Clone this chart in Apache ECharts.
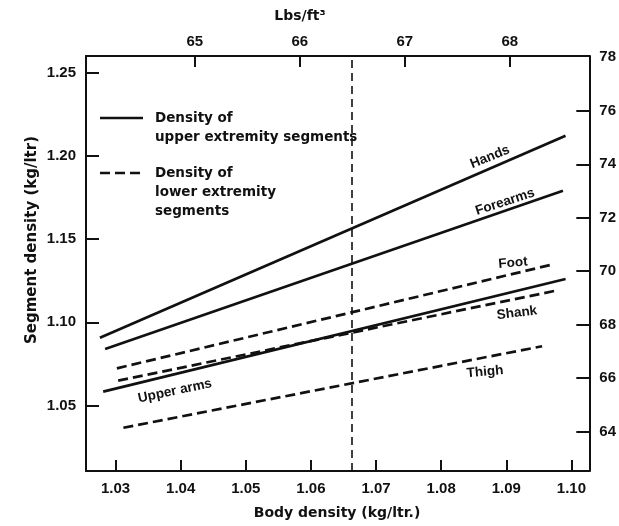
<!DOCTYPE html>
<html><head><meta charset="utf-8">
<script src="https://cdn.jsdelivr.net/npm/echarts@6/dist/echarts.min.js"></script>
<style>html,body{margin:0;padding:0;background:#fff}#c{width:619px;height:526px}</style>
</head><body><div id="c"></div>
<script>
// Tick labels
const bodyDensityTicks = [1.03, 1.04, 1.05, 1.06, 1.07, 1.08, 1.09, 1.10];
const lbsTopTicks = [65, 66, 67, 68];
const segmentTicks = [1.05, 1.10, 1.15, 1.20, 1.25];
const lbsRightTicks = [64, 66, 68, 70, 72, 74, 76];
const lbsRightLabels = [64, 66, 68, 70, 72, 74, 76, 78];
// Series: [body density, segment density]
const hands = [[1.0276, 1.0907], [1.0991, 1.2122]];
const forearms = [[1.0284, 1.0839], [1.0987, 1.1791]];
const upperArms = [[1.0281, 1.0583], [1.0991, 1.1260]];
const foot = [[1.0302, 1.0723], [1.0967, 1.1344]];
const shank = [[1.0304, 1.0649], [1.0976, 1.1190]];
const thigh = [[1.0312, 1.0366], [1.0955, 1.0856]];
const referenceBodyDensity = 1.0662;

const INK = '#111';
const FONT = 'Liberation Sans';
const TFONT = 'DejaVu Sans';
const chart = echarts.init(document.getElementById('c'));

function solid(name, data) {
  return {name, type: 'line', data, symbol: 'none', xAxisIndex: 0, yAxisIndex: 0,
    lineStyle: {color: INK, width: 2.7, type: 'solid'}, silent: true, animation: false};
}
function dashed(name, data) {
  return {name, type: 'line', data, symbol: 'none', xAxisIndex: 0, yAxisIndex: 0,
    lineStyle: {color: INK, width: 2.7, type: [10, 5]}, silent: true, animation: false};
}
const labelStyle = {fontFamily: FONT, fontWeight: 'bold', fontSize: 15, color: INK};
const txt = (x, y, text, rot, size, align, family) => ({
  type: 'text', x, y, rotation: (rot || 0) * Math.PI / 180,
  style: {text, fill: INK, font: 'bold ' + (size || 13) + 'px "' + (family || TFONT) + '"',
    align: align || 'center', verticalAlign: 'middle'}
});

chart.setOption({
  backgroundColor: '#fff',
  animation: false,
  grid: {left: 86, right: 28, top: 56, bottom: 55},
  xAxis: [
    {type: 'value', position: 'bottom', min: 1.02546, max: 1.10275,
      axisLine: {show: true, onZero: false, lineStyle: {color: INK, width: 2}},
      axisTick: {show: true, inside: true, length: 11, customValues: bodyDensityTicks, lineStyle: {color: INK, width: 2}},
      axisLabel: Object.assign({customValues: bodyDensityTicks, margin: 10, formatter: v => v.toFixed(2)}, labelStyle),
      splitLine: {show: false}},
    {type: 'value', position: 'top', min: 63.963, max: 68.758,
      axisLine: {show: true, onZero: false, lineStyle: {color: INK, width: 2}},
      axisTick: {show: true, inside: true, length: 11, customValues: lbsTopTicks, lineStyle: {color: INK, width: 2}},
      axisLabel: Object.assign({customValues: lbsTopTicks, margin: 7}, labelStyle),
      splitLine: {show: false}}
  ],
  yAxis: [
    {type: 'value', position: 'left', min: 1.01059, max: 1.2601,
      axisLine: {show: true, onZero: false, lineStyle: {color: INK, width: 2}},
      axisTick: {show: true, inside: true, length: 13, customValues: segmentTicks, lineStyle: {color: INK, width: 2}},
      axisLabel: Object.assign({customValues: segmentTicks, margin: 10, formatter: v => v.toFixed(2)}, labelStyle),
      splitLine: {show: false}},
    {type: 'value', position: 'right', min: 62.525, max: 78.05,
      axisLine: {show: true, onZero: false, lineStyle: {color: INK, width: 2}},
      axisTick: {show: true, inside: true, length: 13, customValues: lbsRightTicks, lineStyle: {color: INK, width: 2}},
      axisLabel: Object.assign({customValues: lbsRightLabels, margin: 10}, labelStyle),
      splitLine: {show: false}}
  ],
  series: [
    Object.assign(solid('Hands', hands), {
      markLine: {silent: true, symbol: 'none', precision: 5, label: {show: false},
        lineStyle: {color: INK, width: 1.6, type: [8, 5]},
        data: [{xAxis: referenceBodyDensity}]}
    }),
    solid('Forearms', forearms),
    solid('Upper arms', upperArms),
    dashed('Foot', foot),
    dashed('Shank', shank),
    dashed('Thigh', thigh)
  ],
  graphic: [
    txt(300, 16, 'Lbs/ft\u00B3', 0, 14),
    txt(337, 513, 'Body density (kg/ltr.)', 0, 14),
    txt(32, 240, 'Segment density (kg/ltr)', 90, 15),
    {type: 'line', shape: {x1: 100, y1: 118, x2: 143, y2: 118}, style: {stroke: INK, lineWidth: 2.7}},
    txt(155, 118, 'Density of', 0, 13.5, 'left'),
    txt(155, 137, 'upper extremity segments', 0, 13.5, 'left'),
    {type: 'line', shape: {x1: 100, y1: 173, x2: 145, y2: 173}, style: {stroke: INK, lineWidth: 2.7, lineDash: [10, 5]}},
    txt(155, 173, 'Density of', 0, 13.5, 'left'),
    txt(155, 192, 'lower extremity', 0, 13.5, 'left'),
    txt(155, 211, 'segments', 0, 13.5, 'left'),
    txt(490, 157, 'Hands', 22, 13.5, 'center', FONT),
    txt(505, 202, 'Forearms', 18, 13.5, 'center', FONT),
    txt(513, 263, 'Foot', 5, 13.5, 'center', FONT),
    txt(517, 313, 'Shank', 7, 13.5, 'center', FONT),
    txt(485, 372, 'Thigh', 5, 13.5, 'center', FONT),
    txt(175, 391, 'Upper arms', 12, 13.5, 'center', FONT)
  ]
});
</script></body></html>
